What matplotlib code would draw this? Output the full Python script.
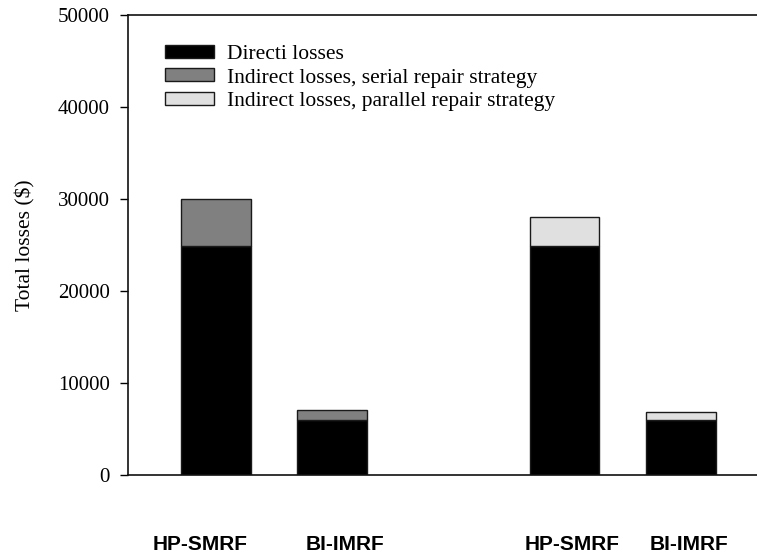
import matplotlib
matplotlib.use("Agg")
import matplotlib.pyplot as plt
import numpy as np

# Data
categories = ["HP-SMRF", "BI-IMRF", "HP-SMRF", "BI-IMRF"]
positions = [0, 1, 3, 4]
direct_losses = [24900, 6000, 24900, 6000]
indirect_serial = [5100, 1100, 0, 0]
indirect_parallel = [0, 0, 3100, 800]
label_x = [-0.13, 1.11, 3.07, 4.07]
yticks = [0, 10000, 20000, 30000, 40000, 50000]

series_names = ["Directi losses",
                "Indirect losses, serial repair strategy",
                "Indirect losses, parallel repair strategy"]
colors = ["#000000", "#808080", "#e0e0e0"]

fig = plt.figure(figsize=(7.57, 5.60), dpi=100)
ax_left = 128 / 757
ax_bottom = (560 - 475) / 560
ax_height = 460 / 560
ax_width = (797 - 128) / 757
ax = fig.add_axes([ax_left, ax_bottom, ax_width, ax_height])

edge = "#1a1a1a"
w = 0.6
pos = np.array(positions)
direct = np.array(direct_losses)
ser = np.array(indirect_serial)
par = np.array(indirect_parallel)

ax.bar(pos, direct, width=w, color=colors[0], edgecolor=edge, linewidth=1, label=series_names[0])
m = ser > 0
ax.bar(pos[m], ser[m], width=w, bottom=direct[m], color=colors[1], edgecolor=edge, linewidth=1, label=series_names[1])
m = par > 0
ax.bar(pos[m], par[m], width=w, bottom=direct[m], color=colors[2], edgecolor=edge, linewidth=1, label=series_names[2])

ax.set_xlim(-0.754, 5.0)
ax.set_ylim(0, 50000)
ax.set_yticks(yticks)
ax.set_yticklabels([str(t) for t in yticks], fontfamily="Liberation Serif", fontsize=15)
ax.set_xticks([])
ax.tick_params(axis="y", direction="out", length=6, width=1, pad=7)
for s in ["top", "bottom", "left", "right"]:
    ax.spines[s].set_linewidth(1.2)
    ax.spines[s].set_color("#111111")

ax.set_ylabel("Total losses ($)", fontfamily="Liberation Serif", fontsize=15.5, labelpad=16)

for x, lab in zip(label_x, categories):
    ax.text(x, -0.163, lab, transform=ax.get_xaxis_transform(), ha="center", va="baseline",
            fontfamily="Liberation Sans", fontweight="bold", fontsize=15)

leg = ax.legend(loc="upper left", bbox_to_anchor=(0.055, 0.935), frameon=False,
                prop={"family": "Liberation Serif", "size": 15.5},
                handlelength=2.28, handleheight=0.56, labelspacing=0.2, handletextpad=0.6,
                borderaxespad=0, borderpad=0)

fig.savefig("out.png", dpi=100)
